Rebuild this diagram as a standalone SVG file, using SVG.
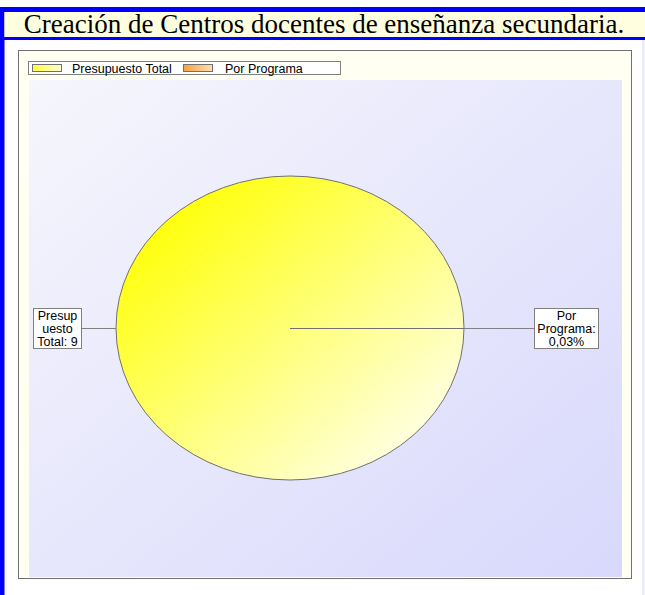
<svg xmlns="http://www.w3.org/2000/svg" width="645" height="595" viewBox="0 0 645 595">
<defs>
<linearGradient id="plotBg" x1="0" y1="0" x2="1" y2="1">
<stop offset="0" stop-color="#F6F6FC"/>
<stop offset="1" stop-color="#D8D8FC"/>
</linearGradient>
<linearGradient id="pieFill" x1="0.15" y1="0.15" x2="0.85" y2="0.85">
<stop offset="0" stop-color="#FFFF10"/>
<stop offset="1" stop-color="#FFFFDC"/>
</linearGradient>
<linearGradient id="sw1" x1="0" y1="0" x2="1" y2="0">
<stop offset="0" stop-color="#FFFF40"/>
<stop offset="1" stop-color="#FFFFD0"/>
</linearGradient>
<linearGradient id="sw2" x1="0" y1="0" x2="1" y2="0">
<stop offset="0" stop-color="#F8A040"/>
<stop offset="1" stop-color="#FCE0B0"/>
</linearGradient>
</defs>
<style>
.lbl{font-family:"Liberation Sans",Arial,sans-serif;font-size:12.5px;fill:#000;text-anchor:middle}
.leg{font-family:"Liberation Sans",Arial,sans-serif;font-size:12.5px;fill:#000}
.box{fill:#FFFFFF;stroke:#808080;stroke-width:1}
.conn{stroke:#808080;stroke-width:1;fill:none}
</style>
<rect width="645" height="595" fill="#FFFFFF"/>
<g id="frame">
<rect x="0" y="7" width="4.5" height="588" fill="#0000FF"/>
<rect x="0" y="7" width="645" height="5" fill="#0000FF"/>
<rect x="4.5" y="12" width="640.5" height="25" fill="#FFFFE0"/>
<rect x="0" y="37" width="645" height="3" fill="#0000FF"/>
<rect x="642" y="40" width="3" height="555" fill="#EEEEFA"/>
</g>
<g id="title">
<text x="324" y="33" font-family="'Liberation Serif','Times New Roman',serif" font-size="27" text-anchor="middle" fill="#000">Creación de Centros docentes de enseñanza secundaria.</text>
</g>
<g id="chart-area">
<rect x="18.5" y="50.5" width="613" height="528" fill="#FFFFF2" stroke="#707070" stroke-width="1"/>
<rect x="29" y="80" width="593" height="497" fill="url(#plotBg)"/>
</g>
<g id="legend">
<rect x="28.5" y="61.5" width="312" height="13" class="box"/>
<rect x="32.5" y="64.5" width="29" height="7" fill="url(#sw1)" stroke="#707070" stroke-width="1"/>
<text x="72" y="72.5" class="leg">Presupuesto Total</text>
<rect x="183.5" y="64.5" width="29" height="7" fill="url(#sw2)" stroke="#707070" stroke-width="1"/>
<text x="225" y="72.5" class="leg">Por Programa</text>
</g>
<g id="pie">
<ellipse cx="290" cy="328" rx="174" ry="152" fill="url(#pieFill)" stroke="#707070" stroke-width="1"/>
<line x1="290" y1="328.5" x2="500" y2="328.5" stroke="#707070" stroke-width="1"/>
</g>
<g id="connectors">
<line x1="81" y1="328.5" x2="116" y2="328.5" class="conn"/>
<line x1="464" y1="328.5" x2="534" y2="328.5" class="conn"/>
</g>
<g id="label-total">
<rect x="33.5" y="308.5" width="48" height="40" class="box"/>
<text x="57.5" y="320" class="lbl">Presup</text>
<text x="57.5" y="333" class="lbl">uesto</text>
<text x="57.5" y="346" class="lbl">Total: 9</text>
</g>
<g id="label-programa">
<rect x="534.5" y="308.5" width="64" height="40" class="box"/>
<text x="566.5" y="320" class="lbl">Por</text>
<text x="566.5" y="333" class="lbl">Programa:</text>
<text x="566.5" y="346" class="lbl">0,03%</text>
</g>
</svg>
